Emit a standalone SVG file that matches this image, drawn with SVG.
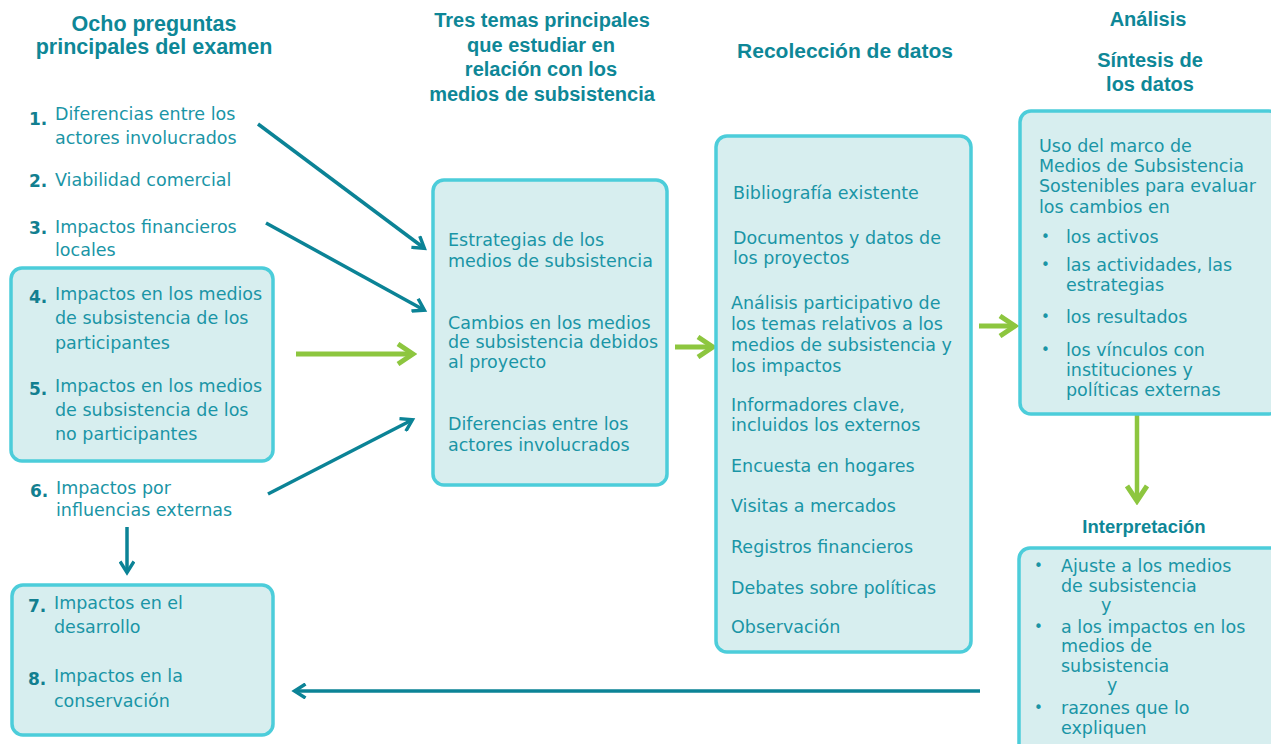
<svg xmlns="http://www.w3.org/2000/svg" width="1271" height="744" viewBox="0 0 1271 744">
<style>
.box{fill:#d7eeef;stroke:#4ccdda;stroke-width:3.5}
.t{font-family:"DejaVu Sans",sans-serif;font-size:17.5px;fill:#1a95a6}
.b{font-family:"DejaVu Sans",sans-serif;font-size:15px;fill:#1a95a6}
.n{font-family:"DejaVu Sans",sans-serif;font-size:17px;font-weight:bold;fill:#127f90}
.h{font-family:"Liberation Sans",Arial,sans-serif;font-size:20px;font-weight:bold;fill:#0e8797;text-anchor:middle}
.dk{stroke:#0b8396;stroke-width:3.5;fill:none}
.gr{stroke:#8dc63f;stroke-width:5;fill:none}
</style>
<defs>
<marker id="ad" markerWidth="16" markerHeight="16" refX="12" refY="8" orient="auto" markerUnits="userSpaceOnUse" viewBox="0 0 16 16">
<path d="M1.5,1 L12.5,8 L1.5,15" fill="none" stroke="#0b8396" stroke-width="3.4"/>
</marker>
<marker id="ag" markerWidth="22" markerHeight="24" refX="18" refY="12" orient="auto" markerUnits="userSpaceOnUse" viewBox="0 0 22 24">
<path d="M3,2 L18,12 L3,22" fill="none" stroke="#8dc63f" stroke-width="5"/>
</marker>
</defs>

<g id="headings">
<text class="h" x="154" y="31" style="font-size:21.5px">Ocho preguntas</text>
<text class="h" x="154" y="54" style="font-size:21.5px">principales del examen</text>
<text class="h" x="542" y="27">Tres temas principales</text>
<text class="h" x="541" y="52">que estudiar en</text>
<text class="h" x="541" y="76">relación con los</text>
<text class="h" x="542" y="101">medios de subsistencia</text>
<text class="h" x="845" y="58" style="font-size:21px">Recolección de datos</text>
<text class="h" x="1148" y="26">Análisis</text>
<text class="h" x="1150" y="67">Síntesis de</text>
<text class="h" x="1150" y="91">los datos</text>
<text class="h" x="1144" y="533" style="font-size:18.5px">Interpretación</text>
</g>

<g id="connectors">
<line class="dk" x1="258" y1="124" x2="424" y2="248" marker-end="url(#ad)"/>
<line class="dk" x1="266" y1="223" x2="424" y2="310" marker-end="url(#ad)"/>
<line class="dk" x1="268" y1="494" x2="412" y2="420" marker-end="url(#ad)"/>
<line class="dk" x1="127" y1="527" x2="127" y2="572" marker-end="url(#ad)"/>
<line class="dk" x1="980" y1="691" x2="295" y2="691" marker-end="url(#ad)"/>
<line class="gr" x1="296" y1="354" x2="413" y2="354" marker-end="url(#ag)"/>
<line class="gr" x1="675" y1="347" x2="713" y2="347" marker-end="url(#ag)"/>
<line class="gr" x1="979" y1="326" x2="1015" y2="326" marker-end="url(#ag)"/>
<line class="gr" x1="1137" y1="415" x2="1137" y2="501" marker-end="url(#ag)" style="stroke-width:4.5"/>
</g>

<g id="q1">
<text class="n" x="29" y="125">1.</text>
<text class="t" x="55" y="120">Diferencias entre los</text>
<text class="t" x="55" y="144">actores involucrados</text>
</g>
<g id="q2">
<text class="n" x="29" y="187">2.</text>
<text class="t" x="55" y="186">Viabilidad comercial</text>
</g>
<g id="q3">
<text class="n" x="29" y="234">3.</text>
<text class="t" x="55" y="233">Impactos financieros</text>
<text class="t" x="55" y="256">locales</text>
</g>
<g id="q45">
<rect class="box" x="11" y="268" width="262" height="193" rx="11"/>
<text class="n" x="29" y="303">4.</text>
<text class="t" x="55" y="300">Impactos en los medios</text>
<text class="t" x="55" y="324">de subsistencia de los</text>
<text class="t" x="55" y="349">participantes</text>
<text class="n" x="29" y="395">5.</text>
<text class="t" x="55" y="392">Impactos en los medios</text>
<text class="t" x="55" y="416">de subsistencia de los</text>
<text class="t" x="55" y="440">no participantes</text>
</g>
<g id="q6">
<text class="n" x="30" y="497">6.</text>
<text class="t" x="56" y="494">Impactos por</text>
<text class="t" x="56" y="516">influencias externas</text>
</g>
<g id="q78">
<rect class="box" x="12" y="585" width="261" height="150" rx="11"/>
<text class="n" x="28" y="612">7.</text>
<text class="t" x="54" y="609">Impactos en el</text>
<text class="t" x="54" y="633">desarrollo</text>
<text class="n" x="28" y="685">8.</text>
<text class="t" x="54" y="682">Impactos en la</text>
<text class="t" x="54" y="707">conservación</text>
</g>

<g id="temas">
<rect class="box" x="433" y="180" width="234" height="305" rx="11"/>
<text class="t" x="448" y="246">Estrategias de los</text>
<text class="t" x="448" y="267">medios de subsistencia</text>
<text class="t" x="448" y="329">Cambios en los medios</text>
<text class="t" x="448" y="348">de subsistencia debidos</text>
<text class="t" x="448" y="368">al proyecto</text>
<text class="t" x="448" y="430">Diferencias entre los</text>
<text class="t" x="448" y="451">actores involucrados</text>
</g>

<g id="datos">
<rect class="box" x="716" y="136" width="255" height="516" rx="11"/>
<text class="t" x="733" y="199">Bibliografía existente</text>
<text class="t" x="733" y="244">Documentos y datos de</text>
<text class="t" x="733" y="264">los proyectos</text>
<text class="t" x="731" y="309">Análisis participativo de</text>
<text class="t" x="731" y="330">los temas relativos a los</text>
<text class="t" x="731" y="351">medios de subsistencia y</text>
<text class="t" x="731" y="372">los impactos</text>
<text class="t" x="731" y="411">Informadores clave,</text>
<text class="t" x="731" y="431">incluidos los externos</text>
<text class="t" x="731" y="472">Encuesta en hogares</text>
<text class="t" x="731" y="512">Visitas a mercados</text>
<text class="t" x="731" y="553">Registros financieros</text>
<text class="t" x="731" y="594">Debates sobre políticas</text>
<text class="t" x="731" y="633">Observación</text>
</g>

<g id="analisis">
<rect class="box" x="1020" y="111" width="260" height="303" rx="11"/>
<text class="t" x="1039" y="152">Uso del marco de</text>
<text class="t" x="1039" y="172">Medios de Subsistencia</text>
<text class="t" x="1039" y="192">Sostenibles para evaluar</text>
<text class="t" x="1039" y="213">los cambios en</text>
<text class="b" x="1041" y="242">•</text>
<text class="t" x="1066" y="243">los activos</text>
<text class="b" x="1041" y="270">•</text>
<text class="t" x="1066" y="271">las actividades, las</text>
<text class="t" x="1066" y="291">estrategias</text>
<text class="b" x="1041" y="322">•</text>
<text class="t" x="1066" y="323">los resultados</text>
<text class="b" x="1041" y="355">•</text>
<text class="t" x="1066" y="356">los vínculos con</text>
<text class="t" x="1066" y="376">instituciones y</text>
<text class="t" x="1066" y="396">políticas externas</text>
</g>

<g id="interpretacion">
<rect class="box" x="1019" y="548" width="262" height="210" rx="11"/>
<text class="b" x="1034" y="571">•</text>
<text class="t" x="1061" y="572">Ajuste a los medios</text>
<text class="t" x="1061" y="592">de subsistencia</text>
<text class="t" x="1101" y="611">y</text>
<text class="b" x="1034" y="632">•</text>
<text class="t" x="1061" y="633">a los impactos en los</text>
<text class="t" x="1061" y="652">medios de</text>
<text class="t" x="1061" y="672">subsistencia</text>
<text class="t" x="1107" y="691">y</text>
<text class="b" x="1034" y="713">•</text>
<text class="t" x="1061" y="714">razones que lo</text>
<text class="t" x="1061" y="734">expliquen</text>
</g>
</svg>
